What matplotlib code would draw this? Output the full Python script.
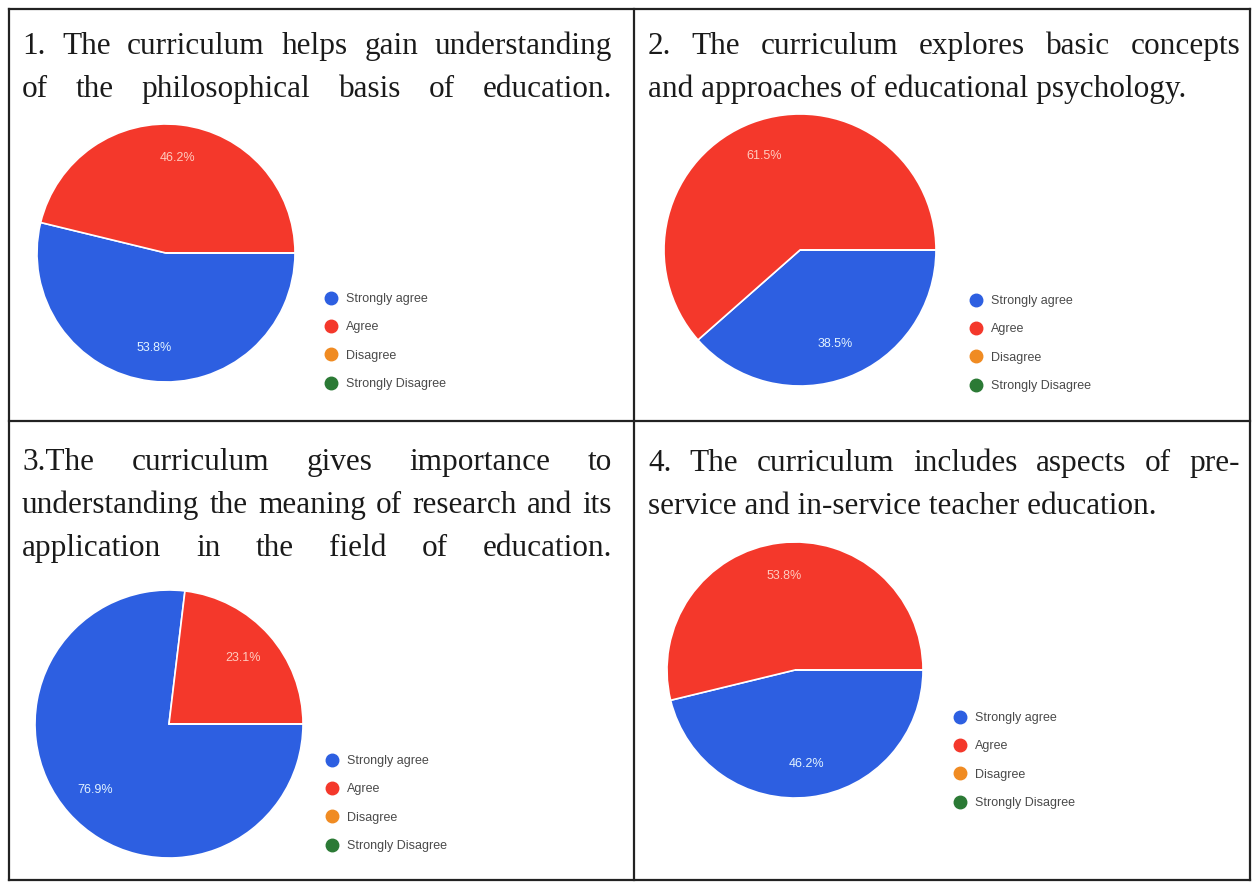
import matplotlib
matplotlib.use('Agg')
import matplotlib.pyplot as plt
from matplotlib.lines import Line2D

W, H = 1256, 883

answer_labels = ['Strongly agree', 'Agree', 'Disagree', 'Strongly Disagree']
answer_colors = ['#2d5fe1', '#f4382b', '#f08b22', '#2b7a35']

q1_pct = [53.8, 46.2, 0, 0]
q2_pct = [38.5, 61.5, 0, 0]
q3_pct = [76.9, 23.1, 0, 0]
q4_pct = [46.2, 53.8, 0, 0]

q1_title = ['1. The curriculum helps gain understanding',
            'of the philosophical basis of education.']
q2_title = ['2. The curriculum explores basic concepts',
            'and approaches of educational psychology.']
q3_title = ['3.The curriculum gives importance to',
            'understanding the meaning of research and its',
            'application in the field of education.']
q4_title = ['4. The curriculum includes aspects of pre-',
            'service and in-service teacher education.']

TITLE_FONT = 'Liberation Serif'
TITLE_SIZE = 22.5
SANS = 'Liberation Sans'


def fx(x):
    return x / W


def fy(y):
    return 1 - y / H


def text_width(fig, renderer, s):
    t = fig.text(0, 0, s, fontsize=TITLE_SIZE, family=TITLE_FONT)
    w = t.get_window_extent(renderer).width
    t.remove()
    return w


def draw_title(fig, renderer, lines, justify, x0, x1, y0, step=43):
    for i, line in enumerate(lines):
        y = y0 + i * step
        if not justify[i]:
            fig.text(fx(x0), fy(y), line, fontsize=TITLE_SIZE, family=TITLE_FONT,
                     color='#1a1a1a', va='baseline', ha='left')
            continue
        # justified line: spread the words over the full width
        words = line.split(' ')
        widths = [text_width(fig, renderer, w) for w in words]
        gap = (x1 - x0 - sum(widths)) / (len(words) - 1)
        x = x0
        for w, wd in zip(words, widths):
            fig.text(fx(x), fy(y), w, fontsize=TITLE_SIZE, family=TITLE_FONT,
                     color='#1a1a1a', va='baseline', ha='left')
            x += wd + gap


def draw_pie(fig, values, cx, cy, r, lx, ly):
    ax = fig.add_axes([fx(cx - r), fy(cy + r), 2 * r / W, 2 * r / H])
    wedges, texts, autotexts = ax.pie(
        values, colors=answer_colors, startangle=0, counterclock=False,
        radius=1, pctdistance=0.74,
        autopct=lambda p: '%.1f%%' % p if p > 0 else '',
        wedgeprops=dict(edgecolor='white', linewidth=1.2),
        textprops=dict(fontsize=9, family=SANS))
    autotexts[0].set_color('#e2f3ff')
    autotexts[1].set_color('#ffcbbf')
    ax.set_xlim(-1, 1)
    ax.set_ylim(-1, 1)
    ax.axis('off')

    handles = [Line2D([], [], marker='o', linestyle='', color=c, markersize=9)
               for c in answer_colors]
    fig.legend(handles, answer_labels, loc='upper left',
               bbox_to_anchor=(fx(lx - 6), fy(ly - 5)), frameon=False,
               prop=dict(family=SANS, size=9), labelcolor='#4a4a4a',
               labelspacing=1.31, handlelength=0.95, handletextpad=0.7,
               borderpad=0, borderaxespad=0)


fig = plt.figure(figsize=(W / 100, H / 100), dpi=100)
renderer = fig.canvas.get_renderer()

# panel borders
lw = 1.6
for x in (9, 634, 1250):
    fig.add_artist(Line2D([fx(x), fx(x)], [fy(9), fy(880)], color='#222222', lw=lw))
for y in (9, 421, 880):
    fig.add_artist(Line2D([fx(9), fx(1250)], [fy(y), fy(y)], color='#222222', lw=lw))

draw_title(fig, renderer, q1_title, [True, True], 22, 612, 54)
draw_title(fig, renderer, q2_title, [True, False], 648, 1240, 54)
draw_title(fig, renderer, q3_title, [True, True, True], 22, 612, 470)
draw_title(fig, renderer, q4_title, [True, False], 648, 1240, 471)

draw_pie(fig, q1_pct, 166, 253, 129, 331, 298)
draw_pie(fig, q2_pct, 800, 250, 136, 976, 300)
draw_pie(fig, q3_pct, 169, 724, 134, 332, 760)
draw_pie(fig, q4_pct, 795, 670, 128, 960, 717)

fig.savefig('out.png', dpi=100)
